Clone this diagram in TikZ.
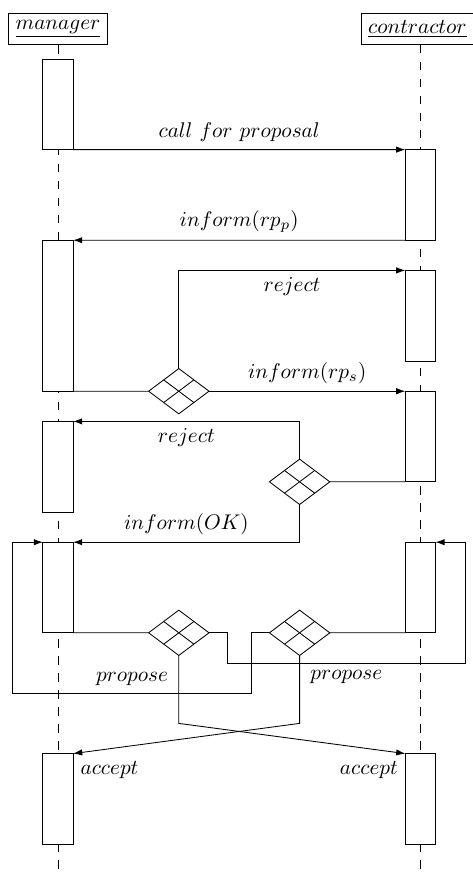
\documentclass[tikz,border=0pt]{standalone}
\usetikzlibrary{shapes.geometric,arrows.meta,calc}
\begin{document}
\begin{tikzpicture}[x=0.5cm,y=-0.5cm,
  act/.style={draw, fill=white, minimum width=0.5cm, minimum height=1.5cm, inner sep=0pt, outer sep=0pt, anchor=north},
  hdr/.style={draw, fill=white, inner sep=3.33pt},
  life/.style={dash pattern=on 4pt off 4pt},
  msg/.style={-{Latex[length=4.3pt,width=3pt]}},
  dia/.style={draw, diamond, fill=white, minimum width=1cm, minimum height=0.75cm, inner sep=0pt, outer sep=0pt}]
\useasboundingbox (-1.921,-1.954) rectangle (13.709,26.954);
% headers
\node[hdr] (mh) at (0,-1) {$\underline{manager}$};
\node[hdr] (ch) at (11.9,-1) {$\underline{contractor}$};
\coordinate (mend) at (0,26.954);
\coordinate (cend) at (12,26.954);
\draw[life] (mh.south) -- (mend);
\draw[life] (ch.south -| cend) -- (cend);
% activations
\node[act] (m1) at (0,0) {};
\node[act] (c1) at (12,3) {};
\node[act, minimum height=2.5cm] (m2) at (0,6) {};
\node[act] (c2) at (12,7) {};
\node[act] (c3) at (12,11) {};
\node[act] (m3) at (0,12) {};
\node[act] (m4) at (0,16) {};
\node[act] (c4) at (12,16) {};
\node[act] (m5) at (0,23) {};
\node[act] (c5) at (12,23) {};
% decision diamonds
\node[dia] (d1) at (4,11) {};
\node[dia] (d2) at (8,14) {};
\node[dia] (d3) at (4,19) {};
\node[dia] (d4) at (8,19) {};
\foreach \d in {d1,d2,d3,d4}{
  \draw ($(\d.north)!0.5!(\d.west)$) -- ($(\d.south)!0.5!(\d.east)$);
  \draw ($(\d.north)!0.5!(\d.east)$) -- ($(\d.south)!0.5!(\d.west)$);
}
% messages
\draw[msg] (m1.south east) -- node[above]{$call\ for\ proposal$} (c1.north west);
\draw[msg] (c1.south west) -- node[above]{$inform(rp_p)$} (m2.north east);
\draw (m2.south east) -- (d1.west);
\draw[msg] (d1.east) -- node[above]{$inform(rp_s)$} (c3.north west);
\draw[msg] (d1.north) |- node[below,pos=0.75]{$reject$} (c2.north west);
\draw (c3.south west) -- (d2.east);
\draw[msg] (d2.north) |- node[below,pos=0.75]{$reject$} (m3.north east);
\draw[msg] (d2.south) |- node[above,pos=0.75]{$inform(OK)$} (m4.north east);
\draw (m4.south east) -- (d3.west);
\draw (c4.south west) -- (d4.east);
\coordinate (rl) at (5.6,20);
\coordinate (rr) at (13.5,20);
\coordinate (ll) at (6.4,21);
\coordinate (lr) at (-1.5,21);
\draw[msg] (d3.east) -| (rl) -- node[below]{$propose$} (rr) |- (c4.north east);
\draw[msg] (d4.west) -| (ll) -- node[above]{$propose$} (lr) |- (m4.north west);
\coordinate (x3) at (4,22);
\coordinate (x4) at (8,22);
\draw[msg] (d3.south) -- (x3) -- (c5.north west) node[anchor=north east]{$accept$};
\draw[msg] (d4.south) -- (x4) -- (m5.north east) node[anchor=north west]{$accept$};
\end{tikzpicture}
\end{document}
